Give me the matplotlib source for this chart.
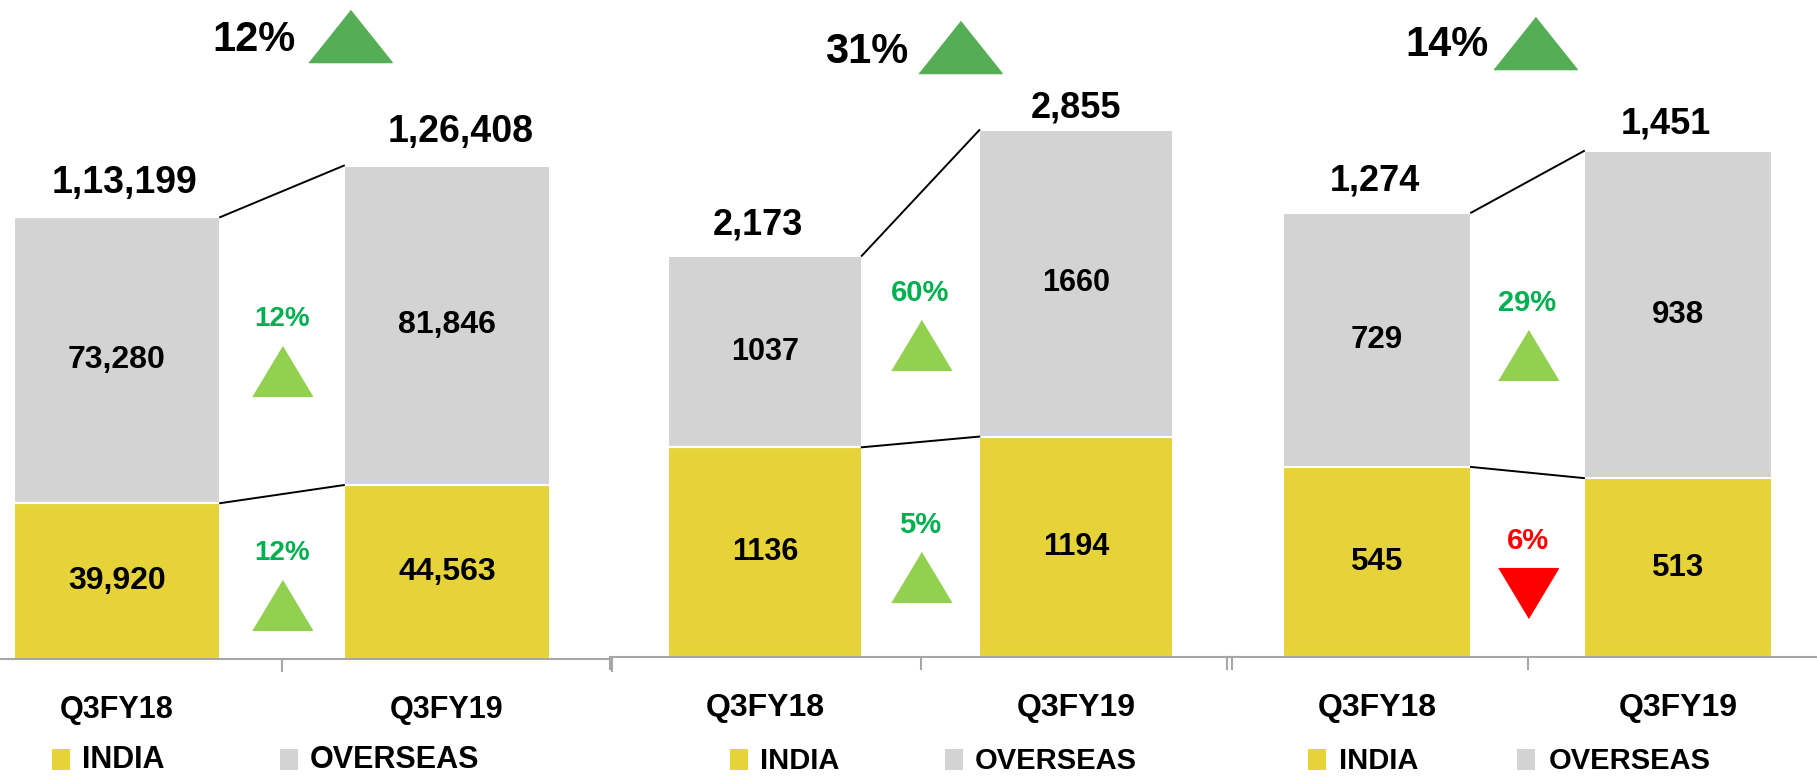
import matplotlib
matplotlib.use("Agg")
import matplotlib.pyplot as plt
from matplotlib.lines import Line2D
from matplotlib.patches import Rectangle
from matplotlib.transforms import offset_copy

plt.rcParams['font.family'] = ['Liberation Sans', 'DejaVu Sans']
plt.rcParams['font.weight'] = 'bold'

W, H = 1817, 776

categories = ["Q3FY18", "Q3FY19"]
series_names = ["INDIA", "OVERSEAS"]

india = [[39920, 44563], [1136, 1194], [545, 513]]
overseas = [[73280, 81846], [1037, 1660], [729, 938]]
india_labels = [["39,920", "44,563"], ["1136", "1194"], ["545", "513"]]
overseas_labels = [["73,280", "81,846"], ["1037", "1660"], ["729", "938"]]
total_labels = [["1,13,199", "1,26,408"], ["2,173", "2,855"], ["1,274", "1,451"]]

total_growth = ["12%", "31%", "14%"]
overseas_growth = ["12%", "60%", "29%"]
india_growth = ["12%", "5%", "6%"]
overseas_up = [True, True, True]
india_up = [True, True, False]

india_color = "#E6D33A"
overseas_color = "#D3D3D3"
axis_color = "#A6A6A6"
big_tri_color = "#55AD55"
tri_up_color = "#92D050"
text_up_color = "#00B050"
down_color = "#FF0000"

# layout of each panel in output pixels
panels = [
    dict(c0=117, step=330, base=659, ymax=168840, width=0.625,
         label_off=[(7, 34), (14, 34)],
         top_text=(254, 40), top_tri=(350, 36),
         legend=(52, 82, 280, 310),
         fs_total=27, fs_inner=23, fs_mid=20, fs_cat=22, fs_leg=22),
    dict(c0=765, step=311, base=657, ymax=3559, width=0.622,
         label_off=[(-7, 31), (0, 22)],
         top_text=(867, 52), top_tri=(960, 47),
         legend=(730, 760, 945, 975),
         fs_total=26, fs_inner=22, fs_mid=21, fs_cat=23, fs_leg=21),
    dict(c0=1377, step=301, base=657, ymax=1884, width=0.625,
         label_off=[(-2, 32), (-12, 27)],
         top_text=(1447, 45), top_tri=(1535, 43),
         legend=(1308, 1339, 1517, 1549),
         fs_total=26, fs_inner=22.5, fs_mid=21, fs_cat=23, fs_leg=21),
]

up_small = [(-0.5, -0.4167), (0.5, -0.4167), (0, 0.4167)]
down_small = [(-0.5, 0.4167), (0.5, 0.4167), (0, -0.4167)]
up_big = [(-0.5, -0.313), (0.5, -0.313), (0, 0.313)]

fig = plt.figure(figsize=(W / 100, H / 100), dpi=100)


def fx(x):
    return x / W


def fy(y):
    return 1 - y / H


for p, lay in enumerate(panels):
    left = lay["c0"] - lay["step"] / 2
    ax = fig.add_axes([fx(left), 1 - lay["base"] / H, 2 * lay["step"] / W, lay["base"] / H])
    ax.set_xlim(-0.5, 1.5)
    ax.set_ylim(0, lay["ymax"])
    for s in ["top", "left", "right"]:
        ax.spines[s].set_visible(False)
    ax.spines["bottom"].set_color(axis_color)
    ax.spines["bottom"].set_linewidth(1.5)
    ax.patch.set_alpha(0)
    ax.set_yticks([])

    x = [0, 1]
    w = lay["width"]
    ind = india[p]
    ovs = overseas[p]
    ax.bar(x, ind, w, color=india_color, edgecolor="white", linewidth=1.5, zorder=2)
    ax.bar(x, ovs, w, bottom=ind, color=overseas_color, edgecolor="white", linewidth=1.5, zorder=2)
    tot = [ind[i] + ovs[i] for i in range(2)]

    # connector lines between bars
    ax.plot([w / 2, 1 - w / 2], [tot[0], tot[1]], color="black", lw=1.4, zorder=3)
    ax.plot([w / 2, 1 - w / 2], [ind[0], ind[1]], color="black", lw=1.4, zorder=3)

    for i in range(2):
        dx, dy = lay["label_off"][i]
        above = offset_copy(ax.transData, fig=fig, x=dx, y=dy, units="dots")
        ax.text(i, tot[i], total_labels[p][i], transform=above, ha="center", va="center",
                fontsize=lay["fs_total"], color="black")
        ax.text(i, ind[i] / 2, india_labels[p][i], ha="center", va="center",
                fontsize=lay["fs_inner"], color="black", zorder=4)
        ax.text(i, ind[i] + ovs[i] / 2, overseas_labels[p][i], ha="center", va="center",
                fontsize=lay["fs_inner"], color="black", zorder=4)

    # growth markers between the bars
    txt_tr = offset_copy(ax.transData, fig=fig, x=0, y=24, units="dots")
    tri_tr = offset_copy(ax.transData, fig=fig, x=0, y=-28, units="dots")
    y_ovs = (ind[0] + ovs[0] / 2 + ind[1] + ovs[1] / 2) / 2
    y_ind = (ind[0] / 2 + ind[1] / 2) / 2
    for yv, lab, up in [(y_ovs, overseas_growth[p], overseas_up[p]),
                        (y_ind, india_growth[p], india_up[p])]:
        tc = text_up_color if up else down_color
        mc = tri_up_color if up else down_color
        ax.text(0.5, yv, lab, transform=txt_tr, ha="center", va="center",
                fontsize=lay["fs_mid"], color=tc)
        ax.plot([0.5], [yv], transform=tri_tr, linestyle="none",
                marker=up_small if up else down_small, ms=43, color=mc, mec=mc, clip_on=False)

    ax.set_xticks(x, categories)
    ax.tick_params(axis="x", which="major", length=0, pad=26, labelsize=lay["fs_cat"])
    ax.set_xticks([-0.5, 0.5, 1.5], minor=True)
    ax.tick_params(axis="x", which="minor", length=9, width=1.5, color=axis_color, direction="out")

    # overall growth at the top
    tx, ty = lay["top_text"]
    fig.text(fx(tx), fy(ty), total_growth[p], ha="center", va="center", fontsize=30, color="black")
    gx, gy = lay["top_tri"]
    fig.add_artist(Line2D([fx(gx)], [fy(gy)], transform=fig.transFigure, linestyle="none",
                          marker=up_big, ms=60, color=big_tri_color, mec=big_tri_color))

    # legend along the bottom edge
    sq1, t1, sq2, t2 = lay["legend"]
    for sq, tx0, name, col in [(sq1, t1, series_names[0], india_color),
                               (sq2, t2, series_names[1], overseas_color)]:
        fig.add_artist(Rectangle((fx(sq), 6 / H), 18 / W, 21 / H, transform=fig.transFigure,
                                 color=col, lw=0))
        fig.text(fx(tx0), 1 / H, name, ha="left", va="bottom", fontsize=lay["fs_leg"], color="black")

fig.savefig("out.png", dpi=100)
